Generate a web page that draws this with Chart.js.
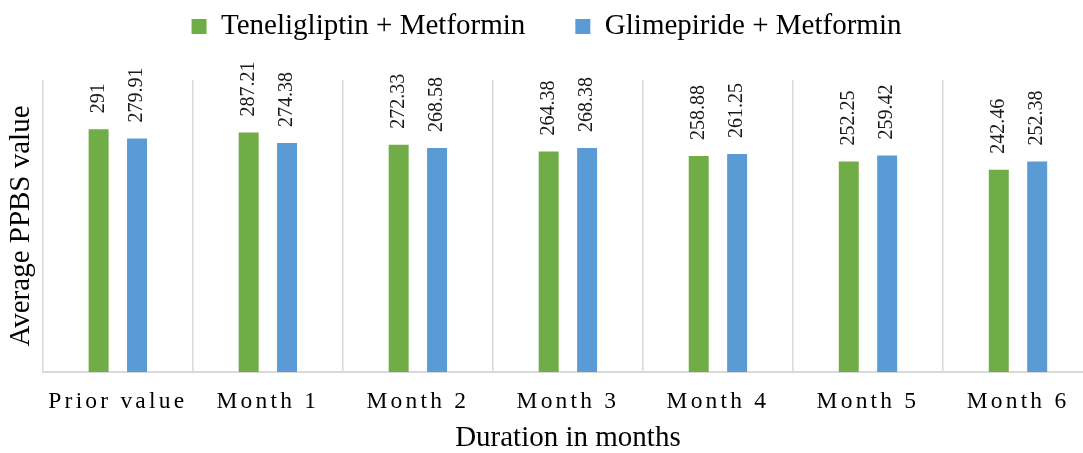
<!DOCTYPE html>
<html>
<head>
<meta charset="utf-8">
<script src="https://cdn.jsdelivr.net/npm/chart.js@4.4.0/dist/chart.umd.min.js"></script>
<style>
  html, body { margin: 0; padding: 0; overflow: hidden; background: #fff; }
  #wrap { width: 1083px; height: 453px; overflow: hidden; }
</style>
</head>
<body>
<div id="wrap"><canvas id="ppbsChart" width="1100" height="453"></canvas></div>
<script>
const months = ['Prior value', 'Month 1', 'Month 2', 'Month 3', 'Month 4', 'Month 5', 'Month 6'];
const teneligliptin = [291, 287.21, 272.33, 264.38, 258.88, 252.25, 242.46];
const glimepiride = [279.91, 274.38, 268.58, 268.38, 261.25, 259.42, 252.38];
const seriesNames = ['Teneligliptin + Metformin', 'Glimepiride + Metformin'];
const yMax = 350;

const serif = '"Liberation Serif", "Times New Roman", serif';

// value labels standing upright above each bar
const barValueLabels = {
    id: 'barValueLabels',
    afterDatasetsDraw(chart) {
        const ctx = chart.ctx;
        ctx.save();
        ctx.font = '20px ' + serif;
        ctx.fillStyle = '#1a1a1a';
        ctx.textAlign = 'left';
        ctx.textBaseline = 'middle';
        chart.data.datasets.forEach((dataset, i) => {
            chart.getDatasetMeta(i).data.forEach((bar, j) => {
                ctx.save();
                ctx.translate(bar.x, bar.y - 16);
                ctx.rotate(-Math.PI / 2);
                ctx.fillText(String(dataset.data[j]), 0, 0);
                ctx.restore();
            });
        });
        ctx.restore();
    }
};

// extra room under the legend, and spaced-out category labels
const layoutTweaks = {
    id: 'layoutTweaks',
    beforeInit(chart) {
        const legend = chart.legend;
        const fit = legend.fit.bind(legend);
        legend.fit = function() {
            fit();
            this.height += 29;
        };
    },
    beforeDraw(chart) {
        const xScale = chart.scales.x;
        if (xScale._spaced) {
            return;
        }
        const drawLabels = xScale.drawLabels.bind(xScale);
        xScale.drawLabels = function(area) {
            chart.ctx.save();
            chart.ctx.letterSpacing = '3.2px';
            drawLabels(area);
            chart.ctx.restore();
        };
        xScale._spaced = true;
    }
};

const ctx = document.getElementById('ppbsChart').getContext('2d');

const data = {
    labels: months,
    datasets: [
        {
            label: seriesNames[0],
            data: teneligliptin,
            backgroundColor: '#70AD47',
            borderWidth: 0,
        },
        {
            label: seriesNames[1],
            data: glimepiride,
            backgroundColor: '#5B9BD5',
            borderWidth: 0,
        }
    ]
};

const config = {
    type: 'bar',
    data: data,
    options: {
        responsive: false,
        animation: false,
        categoryPercentage: 0.512,
        barPercentage: 0.52,
        layout: {
            padding: { top: -38, right: 7, bottom: 0, left: 0 }
        },
        scales: {
            x: {
                offset: true,
                grid: {
                    display: true,
                    offset: true,
                    drawTicks: false,
                    color: '#d9d9d9',
                    lineWidth: 1.5,
                },
                border: {
                    display: true,
                    color: '#d9d9d9',
                    width: 2,
                },
                ticks: {
                    autoSkip: false,
                    maxRotation: 0,
                    padding: 16,
                    color: '#000',
                    font: { family: serif, size: 23.5 },
                },
                title: {
                    display: true,
                    text: 'Duration in months',
                    color: '#000',
                    font: { family: serif, size: 29 },
                    padding: { top: -11.7, bottom: -2.3 },
                }
            },
            y: {
                min: 0,
                max: yMax,
                grid: { display: false, drawTicks: false },
                border: { display: false },
                ticks: { display: false },
                title: {
                    display: true,
                    text: 'Average PPBS value',
                    color: '#000',
                    font: { family: serif, size: 29 },
                    padding: { top: 4, bottom: 4 },
                }
            }
        },
        plugins: {
            legend: {
                display: true,
                position: 'top',
                labels: {
                    boxWidth: 15,
                    boxHeight: 15,
                    padding: 50,
                    color: '#000',
                    font: { family: serif, size: 29 },
                }
            },
            tooltip: { enabled: false }
        }
    },
    plugins: [barValueLabels, layoutTweaks]
};

const ppbsChart = new Chart(ctx, config);
</script>
</body>
</html>
